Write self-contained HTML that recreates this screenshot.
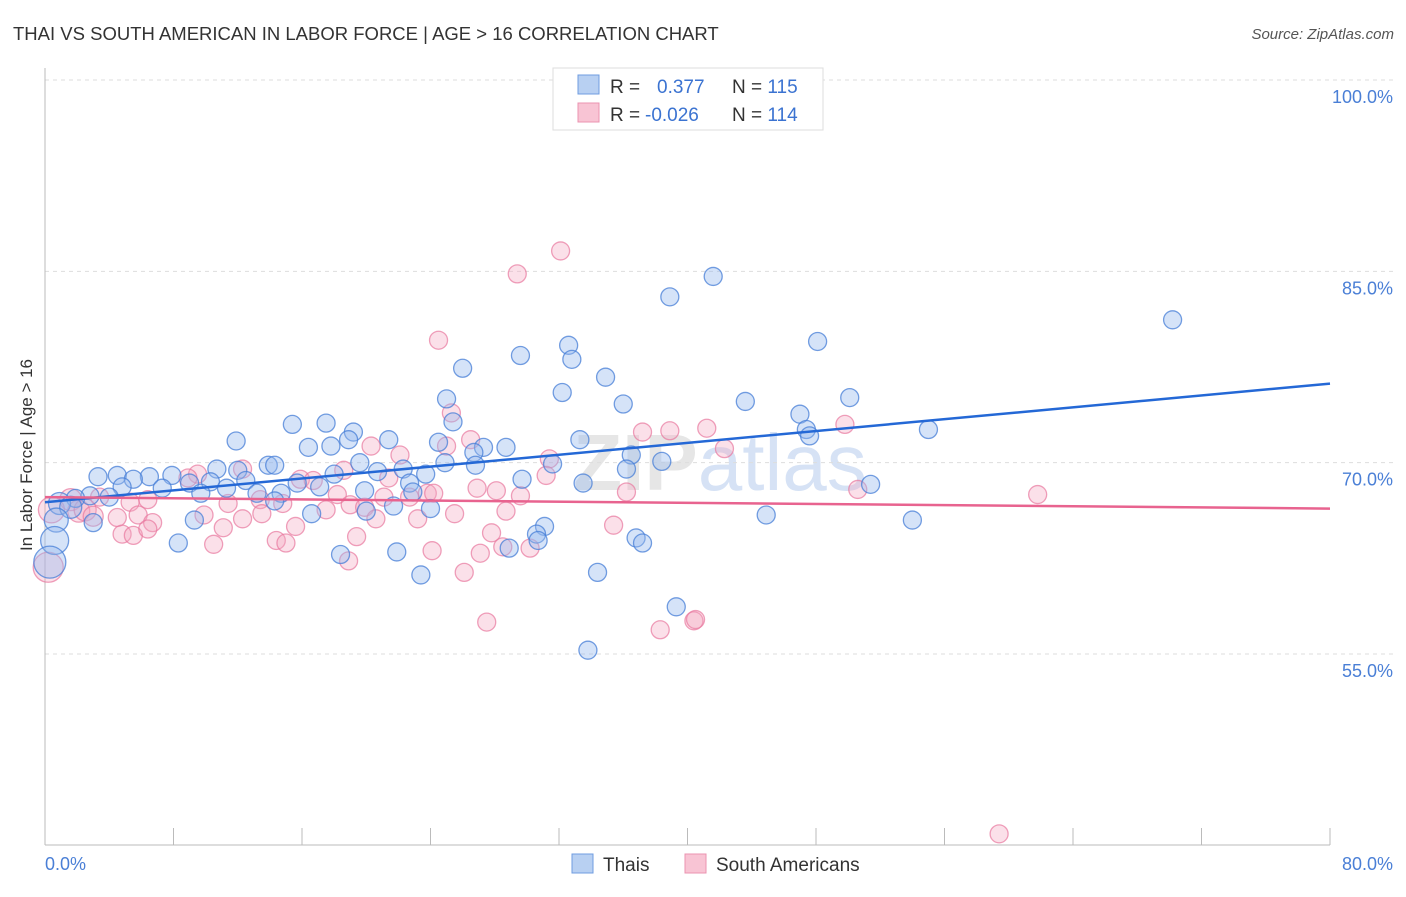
<!DOCTYPE html>
<html><head><meta charset="utf-8"><style>
body{margin:0;background:#fff;font-family:"Liberation Sans",sans-serif;}
svg text{font-family:"Liberation Sans",sans-serif;}
</style></head><body>
<svg id="chart" width="1406" height="892" xmlns="http://www.w3.org/2000/svg">
<text x="13" y="40" font-size="18.5" fill="#333">THAI VS SOUTH AMERICAN IN LABOR FORCE | AGE &gt; 16 CORRELATION CHART</text>
<text x="1394" y="39" font-size="15" fill="#555" font-style="italic" text-anchor="end">Source: ZipAtlas.com</text>
<text x="720" y="490" font-size="80" fill="#e6e6e6" text-anchor="middle" font-weight="bold">ZIP<tspan fill="#d6e2f5" font-weight="normal">atlas</tspan></text>
<g id="grid"></g>
<g id="axes"></g>
<g id="pinkPts"></g>
<g id="bluePts"></g>
<g id="trends"></g>
<text x="32" y="455" font-size="17" fill="#333" text-anchor="middle" transform="rotate(-90 32 455)">In Labor Force | Age &gt; 16</text>
<g>
<rect x="553" y="68" width="270" height="62" fill="#fff" stroke="#ddd"/>
<rect x="578" y="75" width="21" height="19" fill="#b8d0f2" stroke="#6f9ce0"/>
<rect x="578" y="103" width="21" height="19" fill="#f8c4d4" stroke="#eb93b0"/>
<text x="610" y="93" font-size="19" fill="#333">R = <tspan x="657" fill="#3b73d1">0.377</tspan><tspan x="732" fill="#333">N = </tspan><tspan fill="#3b73d1">115</tspan></text>
<text x="610" y="121" font-size="19" fill="#333">R = <tspan x="645" fill="#3b73d1">-0.026</tspan><tspan x="732" fill="#333">N = </tspan><tspan fill="#3b73d1">114</tspan></text>
</g>
<g>
<rect x="572" y="854" width="21" height="19" fill="#b8d0f2" stroke="#6f9ce0"/>
<text x="603" y="871" font-size="19" fill="#333">Thais</text>
<rect x="685" y="854" width="21" height="19" fill="#f8c4d4" stroke="#eb93b0"/>
<text x="716" y="871" font-size="19" fill="#333">South Americans</text>
</g>
</svg>
<script>
const yTicks=[100,85,70,55];
const yTickLabels=["100.0%","85.0%","70.0%","55.0%"];
const xTicks=[0,8,16,24,32,40,48,56,64,72,80];
const xTickLabels=["0.0%","80.0%"];
const blueX=[41.6,38.9,70.2,48.1,32.6,29.6,32.8,26.0,34.9,32.2,25.0,43.6,50.1,36.0,47.0,25.4,17.5,15.4,19.2,47.4,55.0,47.6,33.3,11.9,18.9,21.4,16.4,17.8,24.5,27.3,28.7,26.7,36.5,24.9,26.8,31.6,38.4,19.6,10.7,13.9,14.3,22.3,20.7,36.2,3.3,4.5,12.0,18.0,23.7,7.9,6.5,5.5,29.7,12.5,10.3,9.0,15.7,17.1,22.7,33.5,51.4,4.8,7.3,11.3,19.9,22.9,9.7,13.2,14.7,2.8,4.0,1.9,0.9,1.6,14.3,21.7,16.6,24.0,20.0,9.3,44.9,54.0,3.0,0.7,31.1,8.3,30.6,30.7,36.8,37.2,0.6,28.9,21.9,18.4,0.3,34.4,23.4,39.3,33.8];
const blueY=[84.6,83.0,81.2,79.5,79.2,78.4,78.1,77.4,76.7,75.5,75.0,74.8,75.1,74.6,73.8,73.2,73.1,73.0,72.4,72.6,72.6,72.1,71.8,71.7,71.8,71.8,71.2,71.3,71.6,71.2,71.2,70.8,70.6,70.0,69.8,69.9,70.1,70.0,69.5,69.8,69.8,69.5,69.3,69.5,68.9,69.0,69.4,69.1,69.1,69.0,68.9,68.7,68.7,68.6,68.5,68.4,68.4,68.1,68.4,68.4,68.3,68.1,68.0,68.0,67.8,67.7,67.6,67.6,67.6,67.4,67.3,67.2,66.8,66.5,67.0,66.6,66.0,66.4,66.2,65.5,65.9,65.5,65.3,65.5,65.0,63.7,64.4,63.9,64.1,63.7,63.9,63.3,63.0,62.8,62.2,61.4,61.2,58.7,55.3];
const blueR=[9,9,9,9,9,9,9,9,9,9,9,9,9,9,9,9,9,9,9,9,9,9,9,9,9,9,9,9,9,9,9,9,9,9,9,9,9,9,9,9,9,9,9,9,9,9,9,9,9,9,9,9,9,9,9,9,9,9,9,9,9,9,9,9,9,9,9,9,9,9,9,9,11,11,9,9,9,9,9,9,9,9,9,12,9,9,9,9,9,9,14,9,9,9,16,9,9,9,9];
const pinkX=[32.1,29.4,24.5,25.3,37.2,38.9,41.2,49.8,26.5,25.0,20.3,42.3,22.1,31.4,18.6,12.3,9.5,8.9,15.9,16.7,31.2,21.4,26.9,28.1,36.2,50.6,61.8,29.6,23.8,24.2,18.2,21.1,22.7,19.0,19.9,13.4,11.4,6.4,5.3,1.6,3.4,14.8,17.5,25.5,28.7,20.6,23.2,12.3,9.9,4.5,5.8,6.7,2.1,13.5,15.6,11.1,4.8,5.5,6.4,35.4,27.8,19.4,10.5,14.4,15.0,28.5,30.2,24.1,27.1,18.9,26.1,27.5,38.3,40.4,40.5,59.4,0.2,0.4,2.5,3.0];
const pinkY=[86.6,84.8,79.6,73.9,72.4,72.5,72.7,73.0,71.8,71.3,71.3,71.1,70.6,70.3,69.4,69.5,69.1,68.8,68.7,68.6,69.0,68.8,68.0,67.8,67.7,67.9,67.5,67.4,67.6,67.6,67.5,67.3,67.3,66.7,66.5,67.1,66.8,67.1,66.9,67.1,67.3,66.8,66.3,66.0,66.2,65.6,65.6,65.6,65.9,65.7,65.9,65.3,66.2,66.0,65.0,64.9,64.4,64.3,64.8,65.1,64.5,64.2,63.6,63.9,63.7,63.4,63.3,63.1,62.9,62.3,61.4,57.5,56.9,57.6,57.7,40.9,61.8,66.3,66.3,65.8];
const pinkR=[9,9,9,9,9,9,9,9,9,9,9,9,9,9,9,9,9,9,9,9,9,9,9,9,9,9,9,9,9,9,9,9,9,9,9,9,9,9,9,11,9,9,9,9,9,9,9,9,9,9,9,9,11,9,9,9,9,9,9,9,9,9,9,9,9,9,9,9,9,9,9,9,9,9,9,9,15,13,11,10];
const trendX=[0,80];
const blueTrend=[66.9,76.2];
const pinkTrend=[67.3,66.4];

const X0=45,X1=1330,Y0=80,Y1=654;
const sx=v=>X0+(v/80)*(X1-X0);
const sy=v=>Y0+(100-v)/45*(Y1-Y0);
const NS="http://www.w3.org/2000/svg";
function mk(tag,attrs,parent){const e=document.createElementNS(NS,tag);for(const k in attrs)e.setAttribute(k,attrs[k]);document.getElementById(parent).appendChild(e);return e;}

yTicks.forEach((t,i)=>{
  const g=mk('line',{x1:X0,x2:1394,y1:sy(t),y2:sy(t),stroke:'#ddd','stroke-dasharray':'4,4'},'grid');
  
  
  const l=mk('text',{x:1393,y:sy(t)+23,'font-size':18,fill:'#4a7fd6','text-anchor':'end'},'grid');
  l.textContent=yTickLabels[i];
  
  
});
const ya=mk('line',{x1:X0,x2:X0,y1:68,y2:845,stroke:'#bbb'},'axes');


const xa=mk('line',{x1:X0,x2:X1,y1:845,y2:845,stroke:'#bbb'},'axes');


xTicks.forEach(t=>{
  const tk=mk('line',{x1:sx(t),x2:sx(t),y1:828,y2:845,stroke:'#bbb'},'axes');
  
  
});
const xl0=mk('text',{x:45,y:870,'font-size':18,fill:'#4a7fd6'},'axes');
xl0.textContent=xTickLabels[0];


const xl1=mk('text',{x:1393,y:870,'font-size':18,fill:'#4a7fd6','text-anchor':'end'},'axes');
xl1.textContent=xTickLabels[1];



pinkX.forEach((v,i)=>{
  const c=mk('circle',{cx:sx(v),cy:sy(pinkY[i]),r:pinkR[i],fill:'rgba(244,166,192,0.35)',stroke:'rgba(232,120,158,0.7)','stroke-width':1.3},'pinkPts');
  
  
});
blueX.forEach((v,i)=>{
  const c=mk('circle',{cx:sx(v),cy:sy(blueY[i]),r:blueR[i],fill:'rgba(150,186,238,0.4)',stroke:'rgba(70,125,215,0.75)','stroke-width':1.3},'bluePts');
  
  
});
const bt=mk('line',{x1:sx(trendX[0]),x2:sx(trendX[1]),y1:sy(blueTrend[0]),y2:sy(blueTrend[1]),stroke:'#2468d6','stroke-width':2.5},'trends');


const pt=mk('line',{x1:sx(trendX[0]),x2:sx(trendX[1]),y1:sy(pinkTrend[0]),y2:sy(pinkTrend[1]),stroke:'#e8638f','stroke-width':2.5},'trends');


</script>
</body></html>
